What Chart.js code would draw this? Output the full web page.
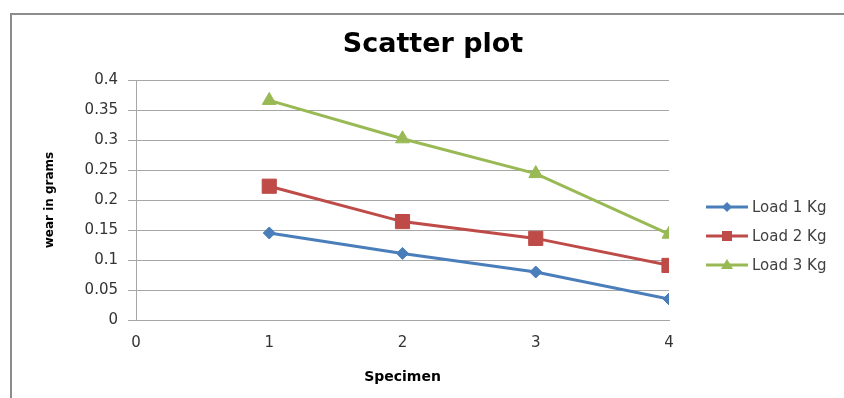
<!DOCTYPE html>
<html>
<head>
<meta charset="utf-8">
<script src="https://cdn.jsdelivr.net/npm/chart.js@4"></script>
<style>
  html, body { margin: 0; padding: 0; background: #fff; }
  #wrap { position: relative; width: 844px; height: 398px; }
  #frame { position: absolute; left: 10px; top: 13px; right: -2px; bottom: -2px;
           border-left: 2px solid #8c8c8c; border-top: 2px solid #8c8c8c; pointer-events: none; }
</style>
</head>
<body>
<div id="wrap">
  <canvas id="wearChart" width="844" height="398"></canvas>
  <div id="frame"></div>
</div>
<script>
const specimens = [1, 2, 3, 4];
const load1 = [0.145, 0.111, 0.080, 0.035];
const load2 = [0.223, 0.164, 0.136, 0.091];
const load3 = [0.366, 0.302, 0.244, 0.143];
const seriesNames = ["Load 1 Kg", "Load 2 Kg", "Load 3 Kg"];
const yTicks = [0, 0.05, 0.1, 0.15, 0.2, 0.25, 0.3, 0.35, 0.4];
const xTicks = [0, 1, 2, 3, 4];

const FONT = "'DejaVu Sans', sans-serif";

const toPoints = (vals) => vals.map((v, i) => ({ x: specimens[i], y: v }));

const makeSet = (label, vals, color, style, radius) => ({
  label: label,
  data: toPoints(vals),
  borderColor: color,
  backgroundColor: color,
  borderWidth: 3,
  pointStyle: style,
  pointRadius: radius,
  pointHoverRadius: radius,
  pointBorderWidth: 1,
  pointBackgroundColor: color,
  pointBorderColor: color,
  showLine: true,
  tension: 0,
});

// excel-like legend: short line with marker in the middle
const lineLegend = {
  id: "lineLegend",
  afterDraw(chart) {
    const ctx = chart.ctx;
    const area = chart.chartArea;
    const x0 = area.right + 37;
    const y0 = area.top + 127;
    chart.data.datasets.forEach((ds, i) => {
      const y = y0 + i * 29;
      ctx.save();
      ctx.strokeStyle = ds.borderColor;
      ctx.lineWidth = 3;
      ctx.beginPath();
      ctx.moveTo(x0, y);
      ctx.lineTo(x0 + 42, y);
      ctx.stroke();
      ctx.fillStyle = ds.borderColor;
      const cx = x0 + 21;
      ctx.beginPath();
      if (ds.pointStyle === "rectRot") {
        ctx.moveTo(cx, y - 5); ctx.lineTo(cx + 5, y); ctx.lineTo(cx, y + 5); ctx.lineTo(cx - 5, y);
      } else if (ds.pointStyle === "rect") {
        ctx.rect(cx - 5, y - 5, 10, 10);
      } else {
        ctx.moveTo(cx, y - 6); ctx.lineTo(cx + 6, y + 4); ctx.lineTo(cx - 6, y + 4);
      }
      ctx.closePath();
      ctx.fill();
      ctx.fillStyle = "#404040";
      ctx.font = "15px " + FONT;
      ctx.textBaseline = "middle";
      ctx.textAlign = "left";
      ctx.fillText(ds.label, x0 + 46, y + 1);
      ctx.restore();
    });
  },
};

const chart = new Chart(document.getElementById("wearChart").getContext("2d"), {
  type: "scatter",
  data: {
    datasets: [
      makeSet(seriesNames[0], load1, "#4a7ebb", "rectRot", 6),
      makeSet(seriesNames[1], load2, "#be4b48", "rect", 10),
      makeSet(seriesNames[2], load3, "#98b954", "triangle", 8),
    ],
  },
  options: {
    responsive: false,
    animation: false,
    layout: { padding: { left: 22, right: 0, top: 0, bottom: 0 } },
    plugins: {
      legend: { display: false },
      tooltip: { enabled: false },
      title: {
        display: true,
        text: "Scatter plot",
        color: "#000",
        font: { family: FONT, size: 27, weight: "bold" },
        padding: { top: 29, bottom: 18.6 },
      },
    },
    scales: {
      x: {
        type: "linear",
        min: 0,
        max: 4,
        afterBuildTicks: (scale) => { scale.ticks = xTicks.map((v) => ({ value: v })); },
        afterFit: (scale) => { scale.height = 78; },
        grid: { display: false, drawTicks: false },
        border: { display: true, color: "#a6a6a6", width: 1 },
        ticks: {
          color: "#333",
          padding: 14,
          font: { family: FONT, size: 15 },
        },
        title: {
          display: true,
          text: "Specimen",
          color: "#000",
          font: { family: FONT, size: 14, weight: "bold" },
          padding: { top: 0, bottom: 12 },
        },
      },
      y: {
        min: 0,
        max: 0.4,
        afterBuildTicks: (scale) => { scale.ticks = yTicks.map((v) => ({ value: v })); },
        afterFit: (scale) => { scale.width = 114; },
        grid: { color: "#a6a6a6", lineWidth: 1, tickLength: 8 },
        border: { display: true, color: "#a6a6a6", width: 1 },
        ticks: {
          color: "#333",
          padding: 10,
          font: { family: FONT, size: 15 },
          callback: (v) => String(Math.round(v * 100) / 100),
        },
        title: {
          display: true,
          text: "wear in grams",
          color: "#000",
          font: { family: FONT, size: 12, weight: "bold" },
          padding: { top: 21, bottom: 0 },
        },
      },
      // empty right-hand axis that reserves the room for the legend
      legendSpace: {
        type: "linear",
        position: "right",
        display: true,
        afterFit: (scale) => { scale.width = 175; },
        grid: { display: false, drawTicks: false },
        border: { display: false },
        ticks: { display: false },
      },
    },
  },
  plugins: [lineLegend],
});
</script>
</body>
</html>
